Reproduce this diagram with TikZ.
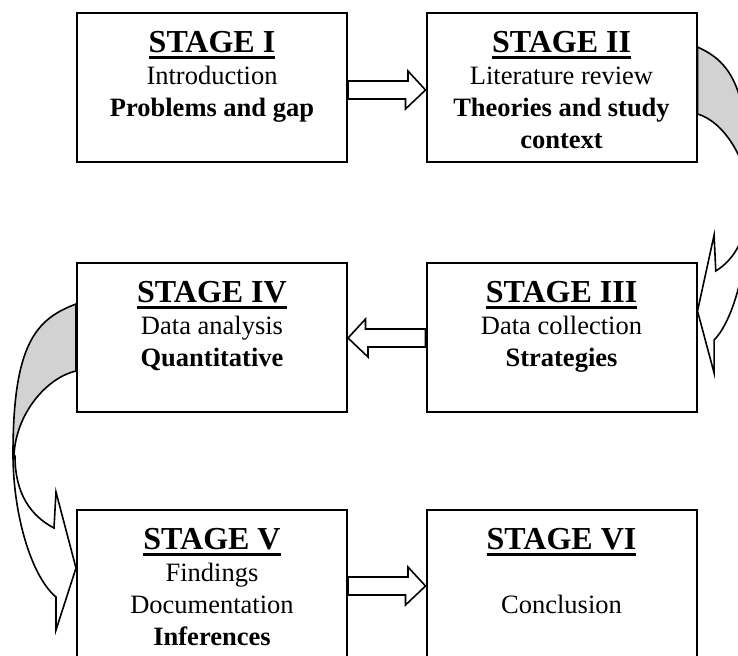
\documentclass[tikz,border=0pt]{standalone}
\usepackage{fontspec}
\setmainfont{Liberation Serif}
\usetikzlibrary{calc}
\newcommand{\stagetitle}[1]{{\fontsize{16}{16}\selectfont\bfseries\setbox0=\hbox{#1}\rlap{\rule[-3.3pt]{\wd0}{1.3pt}}\box0}}

\begin{document}
\begin{tikzpicture}[x=0.5pt,y=-0.5pt,
        stagebox/.style={draw,line width=1pt,minimum width=135pt,minimum height=74.5pt,inner sep=0pt},
        stagetext/.style={anchor=north,align=center,inner sep=0pt,font=\fontsize{13.25}{16}\selectfont},
        blockarrow/.style={draw,fill=white,line width=0.8pt},
        ribbon/.style={draw,line width=0.8pt}]
        \useasboundingbox (0,0) rectangle (738,655);
        \clip (0,0) rectangle (738,655);
        % Caixas
        \node[stagebox] (s1) at (212,87.5) {};
        \node[stagebox] (s2) at (561.5,87.5) {};
        \node[stagebox] (s3) at (561.5,337.5) {};
        \node[stagebox] (s4) at (212,337.5) {};
        \node[stagebox] (s5) at (212,584.5) {};
        \node[stagebox] (s6) at (561.5,584.5) {};
        % Textos
        \node[stagetext] (t1) at ($(s1.north)+(0,12)$) {\rule{0pt}{14pt}\stagetitle{STAGE I}\\ Introduction\\ \textbf{Problems and gap}};
        \node[stagetext] (t2) at ($(s2.north)+(0,12)$) {\rule{0pt}{14pt}\stagetitle{STAGE II}\\ Literature review\\ \textbf{Theories and study}\\ \textbf{context}};
        \node[stagetext] (t3) at ($(s3.north)+(0,12)$) {\rule{0pt}{14pt}\stagetitle{STAGE III}\\ Data collection\\ \textbf{Strategies}};
        \node[stagetext] (t4) at ($(s4.north)+(0,12)$) {\rule{0pt}{14pt}\stagetitle{STAGE IV}\\ Data analysis\\ \textbf{Quantitative}};
        \node[stagetext] (t5) at ($(s5.north)+(0,12)$) {\rule{0pt}{14pt}\stagetitle{STAGE V}\\ Findings\\ Documentation\\ \textbf{Inferences}};
        \node[stagetext] (t6) at ($(s6.north)+(0,12)$) {\rule{0pt}{14pt}\stagetitle{STAGE VI}\\ \mbox{}\\ Conclusion};
        % Seta I -> II
        \draw[blockarrow] ($(s1.east)+(0,-6.5)$) -- ++(60,0) -- ++(0,-10) -- ($(s2.west)+(0,2.5)$) -- ++(-20,19) -- ++(0,-10) -- ($(s1.east)+(0,11.5)$) -- cycle;
        % Seta III -> IV
        \draw[blockarrow] ($(s3.west)+(0,-8.5)$) -- ++(-60,0) -- ++(0,-10) -- ($(s4.east)+(0,0.5)$) -- ++(20,19) -- ++(0,-10) -- ($(s3.west)+(0,9.5)$) -- cycle;
        % Seta V -> VI
        \draw[blockarrow] ($(s5.east)+(0,-7.5)$) -- ++(60,0) -- ++(0,-10) -- ($(s6.west)+(0,1.5)$) -- ++(-20,19) -- ++(0,-10) -- ($(s5.east)+(0,10.5)$) -- cycle;
        % Seta curva II -> III
        \coordinate (o2) at ($(s2.east)+(0,-40.5)$);
        \begin{scope}[shift={(o2)},xscale=-0.83]
            \draw[ribbon,fill=white] (-63,150) .. controls (-63,210) and (-45,272) .. (-20,293) -- (-20,326) -- (0,264) -- (-20,188) -- (-22,224) .. controls (-45,212) and (-61,190) .. (-61,152) -- cycle;
            \draw[ribbon,fill=gray!35] (0,0) .. controls (-40,15) and (-63,40) .. (-63,150) -- (-62,151) .. controls (-60,110) and (-30,74) .. (0,67) -- cycle;
        \end{scope}
        % Seta curva IV -> V
        \coordinate (o4) at ($(s4.west)+(0,-33.5)$);
        \begin{scope}[shift={(o4)}]
            \draw[ribbon,fill=white] (-63,150) .. controls (-63,210) and (-45,272) .. (-20,293) -- (-20,326) -- (0,264) -- (-20,188) -- (-22,224) .. controls (-45,212) and (-61,190) .. (-61,152) -- cycle;
            \draw[ribbon,fill=gray!35] (0,0) .. controls (-40,15) and (-63,40) .. (-63,150) -- (-62,151) .. controls (-60,110) and (-30,74) .. (0,67) -- cycle;
        \end{scope}
    \end{tikzpicture}
\end{document}
